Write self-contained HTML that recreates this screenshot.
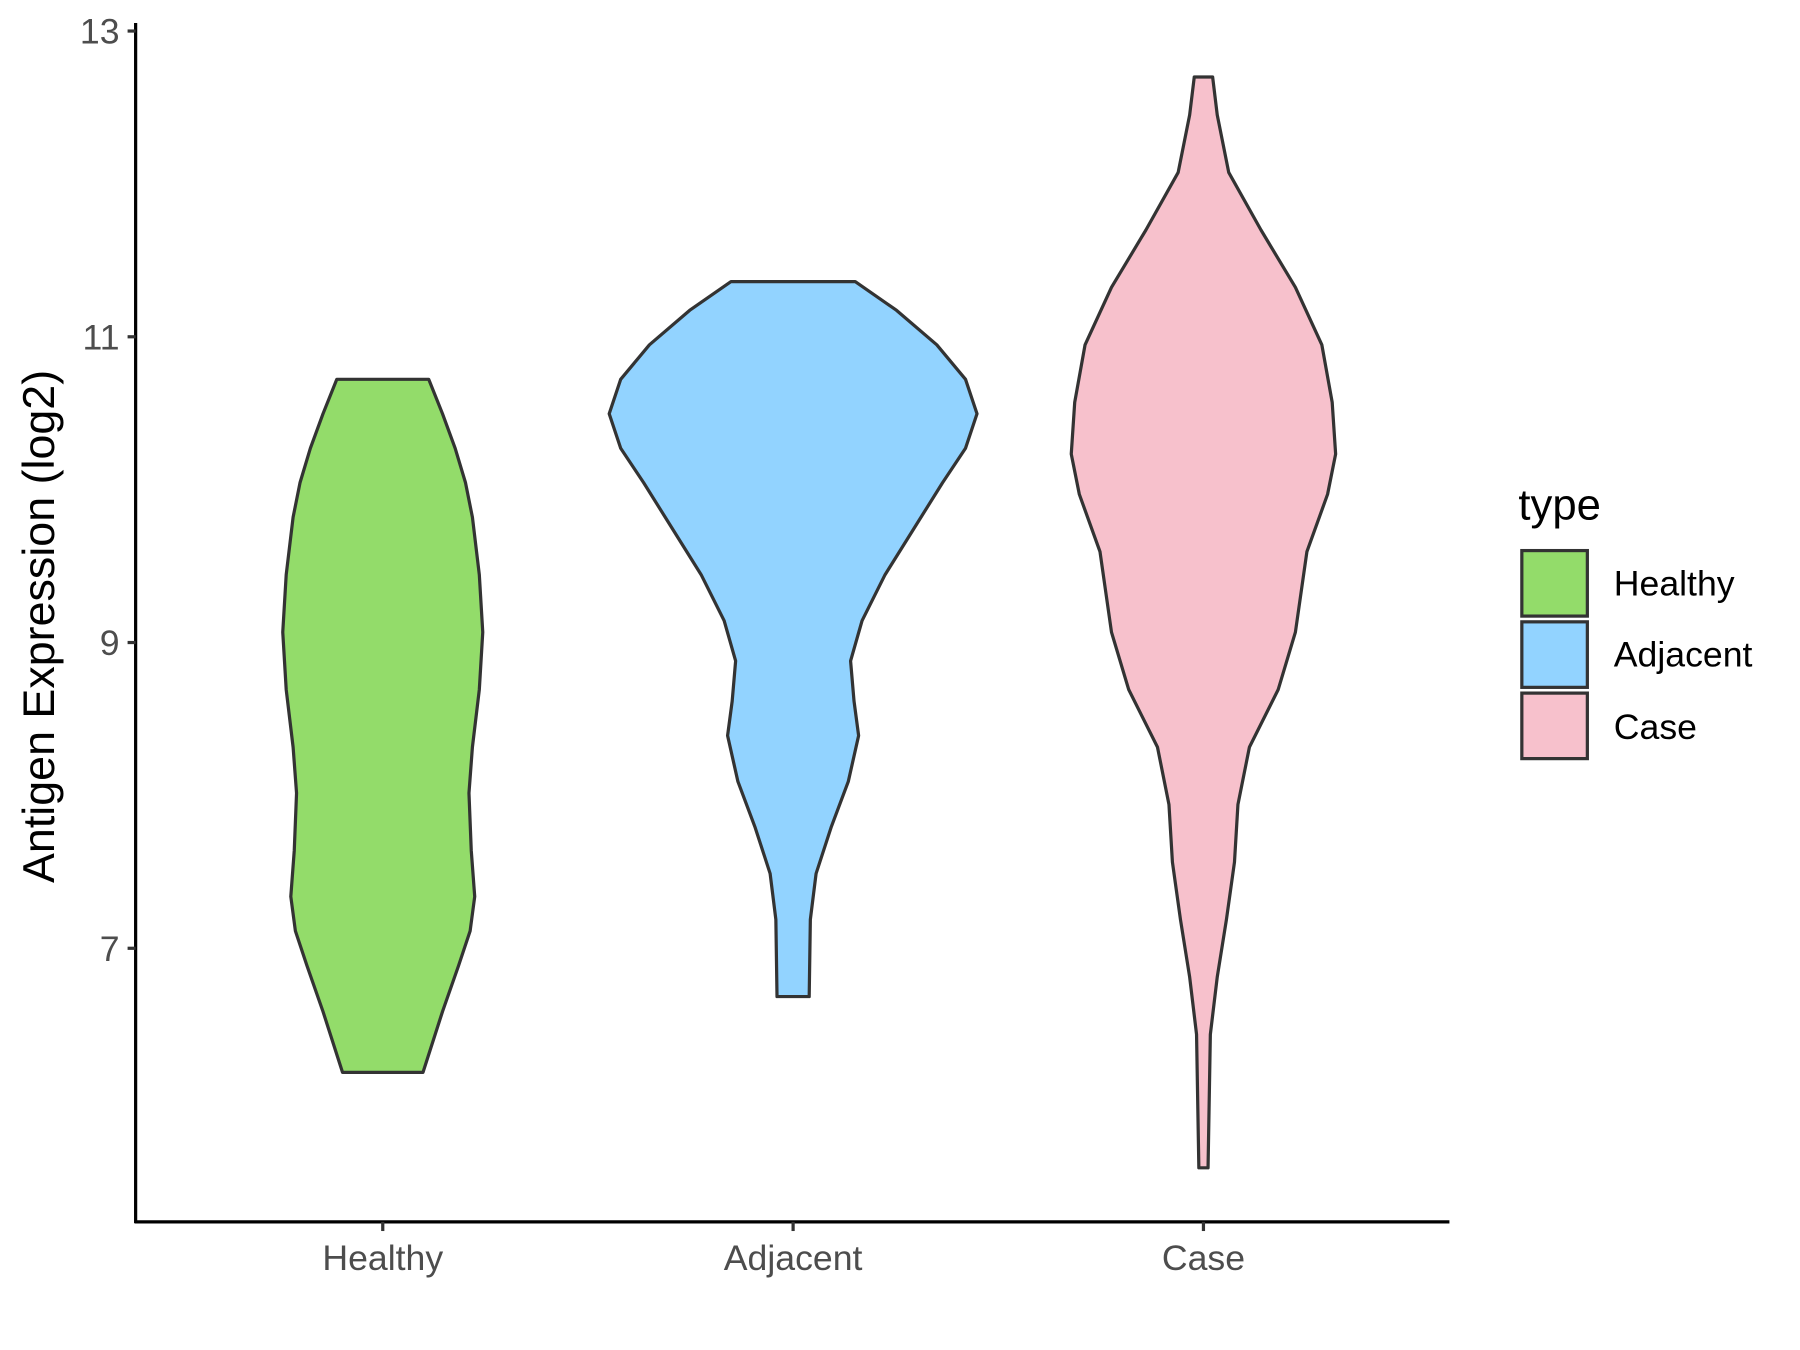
<!DOCTYPE html>
<html><head><meta charset="utf-8"><style>html,body{margin:0;padding:0;background:#fff}svg{display:block}</style></head>
<body>
<svg width="1800" height="1350" viewBox="0 0 1566 1174.5" xmlns="http://www.w3.org/2000/svg" font-family="Liberation Sans, sans-serif">
<rect width="1566" height="1174.5" fill="#fff"/>
<g stroke="#333" stroke-width="2.8" stroke-linejoin="round">
<polygon fill="#93DC6A" points="293,330 281,360 270,390 261,420 255,450 249,500 246,550 249,600 255,650 258,690 256,740 253,780 257,810 267,840 281,880 298,933 368,933 385,880 399,840 409,810 413,780 410,740 408,690 411,650 417,600 420,550 417,500 411,450 405,420 396,390 385,360 373,330"/>
<polygon fill="#92D3FF" points="636,245 600,270 565,300 540,330 530,360 540,390 560,420 585,460 610,500 630,540 640,575 637,610 633,640 642,680 657,720 670,760 675,800 676,867 704,867 705,800 710,760 723,720 738,680 747,640 743,610 740,575 750,540 770,500 795,460 820,420 840,390 850,360 840,330 815,300 780,270 744,245"/>
<polygon fill="#F7C1CC" points="1039,67 1035,100 1025,150 997,200 967,250 944,300 935,350 932,395 939,430 957,480 967,550 982,600 1007,650 1017,700 1020,750 1027,800 1035,850 1041,900 1043,1016 1051,1016 1053,900 1059,850 1067,800 1074,750 1077,700 1087,650 1112,600 1127,550 1137,480 1155,430 1162,395 1159,350 1150,300 1127,250 1097,200 1069,150 1059,100 1055,67"/>
</g>
<g stroke="#000" stroke-width="2.8">
<line x1="118" y1="20" x2="118" y2="1064"/>
<line x1="117" y1="1063" x2="1261" y2="1063"/>
</g>
<g stroke="#333" stroke-width="2.8">
<line x1="111" y1="27" x2="118" y2="27"/><line x1="111" y1="293" x2="118" y2="293"/>
<line x1="111" y1="559" x2="118" y2="559"/><line x1="111" y1="825" x2="118" y2="825"/>
<line x1="333" y1="1063" x2="333" y2="1071"/><line x1="690" y1="1063" x2="690" y2="1071"/><line x1="1047" y1="1063" x2="1047" y2="1071"/>
</g>
<g fill="#4d4d4d" font-size="31" text-anchor="end">
<text x="104" y="38">13</text><text x="104" y="304">11</text><text x="104" y="570">9</text><text x="104" y="836">7</text>
</g>
<g fill="#4d4d4d" font-size="31" text-anchor="middle">
<text x="333" y="1105">Healthy</text><text x="690" y="1105">Adjacent</text><text x="1047" y="1105">Case</text>
</g>
<text transform="translate(47,545) rotate(-90)" text-anchor="middle" font-size="39" fill="#000">Antigen Expression (log2)</text>
<text x="1321" y="452" font-size="38" fill="#000">type</text>
<g stroke="#333" stroke-width="2.8">
<rect x="1324" y="479" width="57" height="57" fill="#93DC6A"/>
<rect x="1324" y="541" width="57" height="57" fill="#92D3FF"/>
<rect x="1324" y="603" width="57" height="57" fill="#F7C1CC"/>
</g>
<g font-size="31" fill="#000">
<text x="1404" y="518">Healthy</text><text x="1404" y="580">Adjacent</text><text x="1404" y="643">Case</text>
</g>
</svg>
</body></html>
